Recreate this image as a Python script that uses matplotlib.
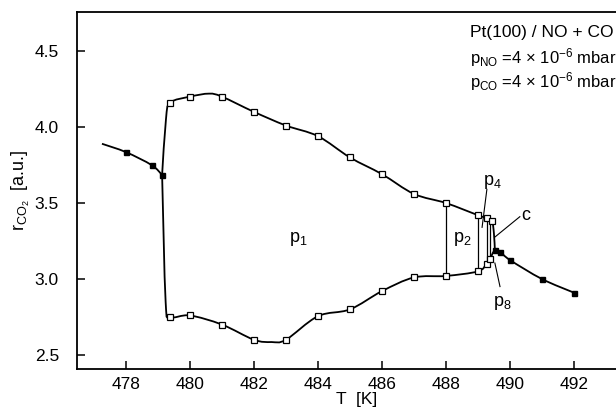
import matplotlib
matplotlib.use('Agg')
import matplotlib.pyplot as plt
import numpy as np
from matplotlib.path import Path
from matplotlib.patches import PathPatch

plt.rcParams['font.family'] = ['Liberation Sans', 'DejaVu Sans']
plt.rcParams['mathtext.fontset'] = 'custom'
plt.rcParams['mathtext.rm'] = 'Liberation Sans'
plt.rcParams['mathtext.it'] = 'Liberation Sans'

# stable branch (filled squares)
T_left = [478.0, 478.8, 479.13]
r_left = [3.835, 3.75, 3.685]
T_right = [489.53, 489.69, 490.0, 491.0, 492.0]
r_right = [3.19, 3.18, 3.125, 3.0, 2.91]

# oscillation maxima / minima (open squares)
T_max = [479.38, 480, 481, 482, 483, 484, 485, 486, 487, 488, 489.0, 489.27, 489.44]
r_max = [4.16, 4.20, 4.20, 4.10, 4.01, 3.94, 3.80, 3.69, 3.56, 3.50, 3.42, 3.40, 3.38]
T_min = [479.38, 480, 481, 482, 483, 484, 485, 486, 487, 488, 489.0, 489.27, 489.38]
r_min = [2.75, 2.76, 2.70, 2.60, 2.60, 2.755, 2.80, 2.92, 3.01, 3.02, 3.05, 3.10, 3.13]

# traced line through the points
T_left_line = [477.25, 478.0, 478.8, 479.13]
r_left_line = [3.89, 3.835, 3.75, 3.685]
T_up_line = [479.13, 479.25, 479.38, 480, 480.6, 481, 482, 483, 484, 485, 486, 487, 488, 489.0, 489.27, 489.44, 489.5, 489.53]
r_up_line = [3.685, 4.05, 4.16, 4.20, 4.22, 4.20, 4.10, 4.01, 3.94, 3.80, 3.69, 3.56, 3.50, 3.42, 3.40, 3.38, 3.30, 3.19]
T_lo_line = [479.13, 479.24, 479.38, 480, 481, 482, 482.55, 483, 484, 485, 486, 487, 488, 489.0, 489.27, 489.38, 489.46, 489.53]
r_lo_line = [3.685, 2.85, 2.75, 2.76, 2.70, 2.60, 2.585, 2.60, 2.755, 2.80, 2.92, 3.01, 3.02, 3.05, 3.10, 3.13, 3.17, 3.19]

# period boundaries (vertical lines)
T_bound = [488.0, 489.0, 489.27, 489.38]
r_bound_lo = [3.02, 3.05, 3.10, 3.13]
r_bound_hi = [3.50, 3.42, 3.40, 3.37]


def smooth_path(xs, ys):
    pts = np.column_stack([xs, ys])
    ext = np.vstack([pts[0], pts, pts[-1]])
    verts = [pts[0]]
    codes = [Path.MOVETO]
    for i in range(1, len(ext) - 2):
        p0, p1, p2, p3 = ext[i - 1], ext[i], ext[i + 1], ext[i + 2]
        verts += [p1 + (p2 - p0) / 6, p2 - (p3 - p1) / 6, p2]
        codes += [Path.CURVE4] * 3
    return Path(verts, codes)


fig = plt.figure(figsize=(6.16, 4.15), dpi=100)
ax = fig.add_axes([0.125, 0.111, 0.909, 0.860])

for xs, ys in [(T_left_line, r_left_line), (T_up_line, r_up_line), (T_lo_line, r_lo_line),
               (T_right, r_right)]:
    ax.add_patch(PathPatch(smooth_path(xs, ys), fill=False, lw=1.3, color='black'))

for t, lo, hi in zip(T_bound, r_bound_lo, r_bound_hi):
    ax.plot([t, t], [lo, hi], color='black', lw=0.9)

ax.plot(T_max, r_max, ls='none', marker='s', ms=4.3, mfc='white', mec='black', mew=0.9)
ax.plot(T_min, r_min, ls='none', marker='s', ms=4.3, mfc='white', mec='black', mew=0.9)
ax.plot(T_left, r_left, ls='none', marker='s', ms=3.6, color='black')
ax.plot(T_right, r_right, ls='none', marker='s', ms=3.6, color='black')

# labels of the periodic regions
ax.text(483.4, 3.26, 'p$_1$', fontsize=13, ha='center', va='center')
ax.text(488.5, 3.26, 'p$_2$', fontsize=13, ha='center', va='center')
ax.text(489.45, 3.64, 'p$_4$', fontsize=13, ha='center', va='center')
ax.text(490.48, 3.42, 'c', fontsize=13, ha='center', va='center')
ax.text(489.75, 2.84, 'p$_8$', fontsize=13, ha='center', va='center')
ax.plot([489.28, 489.13], [3.59, 3.34], color='black', lw=0.8)
ax.plot([490.31, 489.53], [3.41, 3.276], color='black', lw=0.8)
ax.plot([489.69, 489.53], [2.95, 3.105], color='black', lw=0.8)

ax.text(488.75, 4.625, 'Pt(100) / NO + CO', fontsize=12.5, va='center', clip_on=False)
ax.text(488.75, 4.46, 'p$_{\\mathrm{NO}}$ =4 × 10$^{-6}$ mbar', fontsize=12, va='center', clip_on=False)
ax.text(488.75, 4.30, 'p$_{\\mathrm{CO}}$ =4 × 10$^{-6}$ mbar', fontsize=12, va='center', clip_on=False)

ax.set_xlim(476.47, 493.97)
ax.set_ylim(2.408, 4.757)
ax.set_xticks([478, 480, 482, 484, 486, 488, 490, 492])
ax.set_yticks([2.5, 3.0, 3.5, 4.0, 4.5])
ax.tick_params(direction='in', length=6, width=1.1, labelsize=12.5)
ax.tick_params(axis='y', pad=13)
ax.tick_params(axis='x', pad=6)
ax.spines['right'].set_visible(False)
for s in ['left', 'bottom', 'top']:
    ax.spines[s].set_linewidth(1.3)

ax.set_xlabel('T  [K]', fontsize=12.5, labelpad=0)
ax.set_ylabel('r$_{\\mathrm{CO_2}}$  [a.u.]', fontsize=13, labelpad=2)

fig.savefig('out.png', dpi=100)
